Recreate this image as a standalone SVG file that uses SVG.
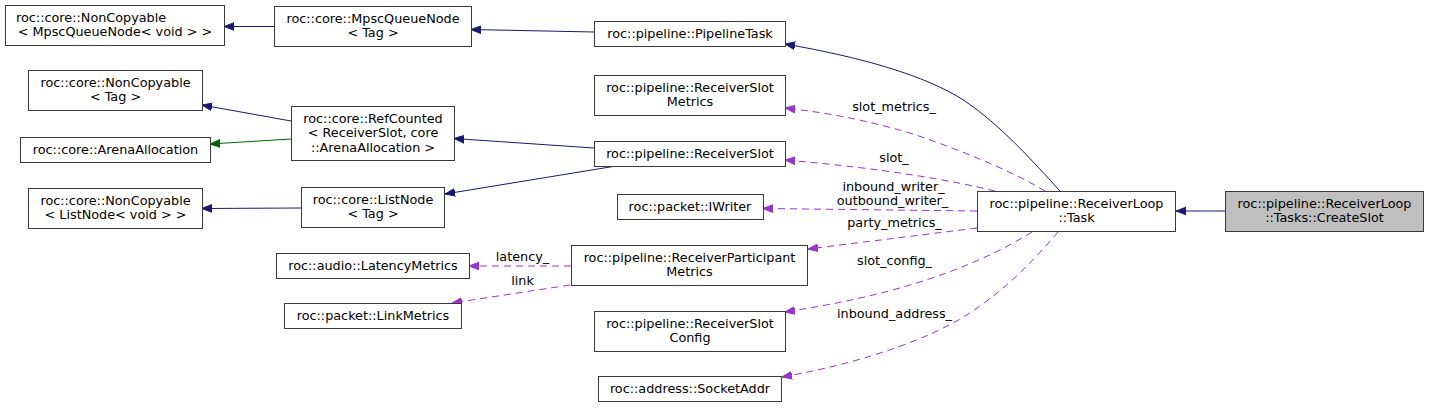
<svg xmlns="http://www.w3.org/2000/svg" width="1429" height="409" viewBox="0 0 1429 409">
<style>
.n rect{fill:#ffffff;stroke:#3a3a3a;stroke-width:1}
.n.root rect{fill:#bfbfbf}
text{font-family:"DejaVu Sans","Liberation Sans",sans-serif;font-size:12.8px;fill:#000}
.c{text-anchor:middle}
.e{fill:none;stroke-width:1}
.b{stroke:#191970}
.g{stroke:#006400}
.p{stroke:#9a32cd;stroke-dasharray:7,5}
</style>
<defs>
<marker id="ab" markerUnits="userSpaceOnUse" viewBox="0 -5 11 10" markerWidth="11" markerHeight="10" refX="10" refY="0" orient="auto"><path d="M0,-3.8 L10,0 L0,3.8 Z" fill="#191970" stroke="#191970"/></marker>
<marker id="ag" markerUnits="userSpaceOnUse" viewBox="0 -5 11 10" markerWidth="11" markerHeight="10" refX="10" refY="0" orient="auto"><path d="M0,-3.8 L10,0 L0,3.8 Z" fill="#006400" stroke="#006400"/></marker>
<marker id="ap" markerUnits="userSpaceOnUse" viewBox="0 -5 11 10" markerWidth="11" markerHeight="10" refX="10" refY="0" orient="auto"><path d="M0,-3.8 L10,0 L0,3.8 Z" fill="#9a32cd" stroke="#9a32cd"/></marker>
</defs>

<g id="connectors">
<path class="e b" d="M274,26.5 L224,26.5" marker-end="url(#ab)"/>
<path class="e b" d="M594,32 L471,29.5" marker-end="url(#ab)"/>
<path class="e b" d="M1060,191 C1030,158 1000,125 965,101 C925,75 860,57 785,44" marker-end="url(#ab)"/>
<path class="e b" d="M291,121 L202,105" marker-end="url(#ab)"/>
<path class="e g" d="M291,139 L210,144" marker-end="url(#ag)"/>
<path class="e b" d="M594,148 L454,138.5" marker-end="url(#ab)"/>
<path class="e b" d="M613,166.5 L445,194" marker-end="url(#ab)"/>
<path class="e b" d="M301,208 L202,208.5" marker-end="url(#ab)"/>
<path class="e b" d="M1225,211 L1176,211" marker-end="url(#ab)"/>

<path class="e p" d="M1045,191 C1010,170 960,150 913,134 C870,121 830,113 785,108" marker-end="url(#ap)"/>
<text class="c" x="894" y="111">slot_metrics_</text>
<path class="e p" d="M995,191 C950,180 880,168 785,160" marker-end="url(#ap)"/>
<text class="c" x="894" y="162">slot_</text>
<path class="e p" d="M977,211 L763,208.5" marker-end="url(#ap)"/>
<text class="c" x="893.5" y="191">inbound_writer_</text>
<text class="c" x="892.5" y="205">outbound_writer_</text>
<path class="e p" d="M977,228 L808,249" marker-end="url(#ap)"/>
<text class="c" x="894.5" y="227">party_metrics_</text>
<path class="e p" d="M1032,232 C1000,252 960,270 910,285 C870,297 830,305 785,312" marker-end="url(#ap)"/>
<text class="c" x="894.5" y="265">slot_config_</text>
<path class="e p" d="M1058,232 C1030,265 995,300 953,323 C910,346 850,365 782,377" marker-end="url(#ap)"/>
<text class="c" x="894.5" y="318">inbound_address_</text>
<path class="e p" d="M571,266 L469,266" marker-end="url(#ap)"/>
<text class="c" x="522.5" y="261">latency_</text>
<path class="e p" d="M570,285 L452,303" marker-end="url(#ap)"/>
<text class="c" x="522.5" y="285">link</text>
</g>

<g id="n_noncopyable_mpsc" class="n"><rect x="5.5" y="5.5" width="219" height="40"/><text x="16" y="22">roc::core::NonCopyable</text><text class="c" x="115" y="36">&lt; MpscQueueNode&lt; void &gt; &gt;</text></g>
<g id="n_mpscqueuenode" class="n"><rect x="274.5" y="6.5" width="197" height="40"/><text class="c" x="373" y="22.5">roc::core::MpscQueueNode</text><text class="c" x="373" y="37">&lt; Tag &gt;</text></g>
<g id="n_pipelinetask" class="n"><rect x="594.5" y="21.5" width="191" height="25"/><text class="c" x="690" y="38">roc::pipeline::PipelineTask</text></g>
<g id="n_noncopyable_tag" class="n"><rect x="28.5" y="70.5" width="174" height="40"/><text class="c" x="115.5" y="86.5">roc::core::NonCopyable</text><text class="c" x="115.5" y="101">&lt; Tag &gt;</text></g>
<g id="n_refcounted" class="n"><rect x="291.5" y="106.5" width="163" height="54"/><text class="c" x="373" y="122.5">roc::core::RefCounted</text><text class="c" x="373" y="137">&lt; ReceiverSlot, core</text><text class="c" x="373" y="151.5">::ArenaAllocation &gt;</text></g>
<g id="n_arenaallocation" class="n"><rect x="20.5" y="137.5" width="190" height="25"/><text class="c" x="115.5" y="154">roc::core::ArenaAllocation</text></g>
<g id="n_noncopyable_list" class="n"><rect x="28.5" y="188.5" width="174" height="40"/><text class="c" x="115.5" y="204.5">roc::core::NonCopyable</text><text class="c" x="115.5" y="219">&lt; ListNode&lt; void &gt; &gt;</text></g>
<g id="n_listnode" class="n"><rect x="301.5" y="187.5" width="143" height="40"/><text class="c" x="373" y="203.5">roc::core::ListNode</text><text class="c" x="373" y="218">&lt; Tag &gt;</text></g>
<g id="n_slotmetrics" class="n"><rect x="594.5" y="75.5" width="191" height="40"/><text class="c" x="690" y="91.5">roc::pipeline::ReceiverSlot</text><text class="c" x="690" y="106">Metrics</text></g>
<g id="n_receiverslot" class="n"><rect x="594.5" y="141.5" width="191" height="25"/><text class="c" x="690" y="158">roc::pipeline::ReceiverSlot</text></g>
<g id="n_iwriter" class="n"><rect x="617.5" y="194.5" width="146" height="25"/><text class="c" x="690" y="211">roc::packet::IWriter</text></g>
<g id="n_task" class="n"><rect x="977.5" y="191.5" width="198" height="40"/><text class="c" x="1076.5" y="207.5">roc::pipeline::ReceiverLoop</text><text class="c" x="1076.5" y="222">::Task</text></g>
<g id="n_createslot" class="n root"><rect x="1225.5" y="191.5" width="198" height="40"/><text class="c" x="1324.5" y="207.5">roc::pipeline::ReceiverLoop</text><text class="c" x="1324.5" y="222">::Tasks::CreateSlot</text></g>
<g id="n_participantmetrics" class="n"><rect x="571.5" y="245.5" width="236" height="40"/><text class="c" x="689.5" y="261.5">roc::pipeline::ReceiverParticipant</text><text class="c" x="689.5" y="276">Metrics</text></g>
<g id="n_latencymetrics" class="n"><rect x="276.5" y="253.5" width="193" height="25"/><text class="c" x="373" y="270">roc::audio::LatencyMetrics</text></g>
<g id="n_linkmetrics" class="n"><rect x="284.5" y="303.5" width="177" height="25"/><text class="c" x="373" y="320">roc::packet::LinkMetrics</text></g>
<g id="n_slotconfig" class="n"><rect x="594.5" y="311.5" width="191" height="40"/><text class="c" x="690" y="327.5">roc::pipeline::ReceiverSlot</text><text class="c" x="690" y="342">Config</text></g>
<g id="n_socketaddr" class="n"><rect x="598.5" y="376.5" width="183" height="25"/><text class="c" x="690" y="393">roc::address::SocketAddr</text></g>
</svg>
